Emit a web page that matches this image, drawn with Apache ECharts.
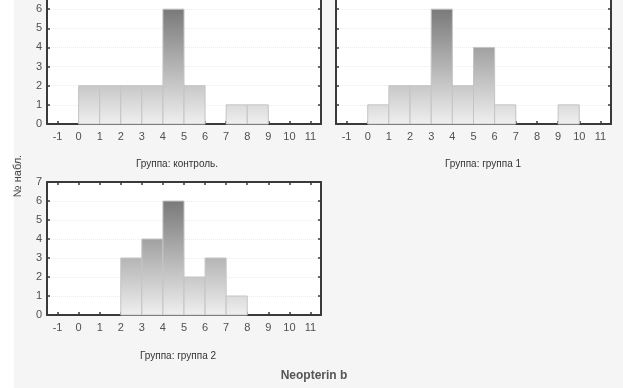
<!DOCTYPE html>
<html>
<head>
<meta charset="utf-8">
<script src="https://cdn.jsdelivr.net/npm/echarts@6/dist/echarts.min.js"></script>
<style>
  html, body { margin: 0; padding: 0; background: #fff; }
  #chart { width: 623px; height: 388px; }
</style>
</head>
<body>
<div id="chart"></div>
<script>
// Histogram bins: left edge of each unit-wide bin and the number of observations in it
const controlBins   = [0, 1, 2, 3, 4, 5, 7, 8];
const controlCounts = [2, 2, 2, 2, 6, 2, 1, 1];
const group1Bins    = [0, 1, 2, 3, 4, 5, 6, 9];
const group1Counts  = [1, 2, 2, 6, 2, 4, 1, 1];
const group2Bins    = [2, 3, 4, 5, 6, 7];
const group2Counts  = [3, 4, 6, 2, 3, 1];

// Tick labels
const xTicks = [-1, 0, 1, 2, 3, 4, 5, 6, 7, 8, 9, 10, 11];
const yTicks = [0, 1, 2, 3, 4, 5, 6, 7];

const panelTitles = ['Группа: контроль.', 'Группа: группа 1', 'Группа: группа 2'];
const yTitle = '№ набл.';
const xTitle = 'Neopterin b';

const X_MIN = -1.5, X_MAX = 11.5, Y_MAX = 7;
const FRAME = '#3a3a3a';
const LABEL = '#505050';
const FONT = 'Liberation Sans, Arial, sans-serif';

const grids = [
  { left: 47,  top: -10, width: 274, height: 134 },
  { left: 336, top: -10, width: 275, height: 134 },
  { left: 47,  top: 182, width: 274, height: 133 }
];

function xAxisPair(gridIndex) {
  const base = {
    type: 'value', gridIndex, min: X_MIN, max: X_MAX,
    axisLine: { show: true, onZero: false, lineStyle: { color: FRAME, width: 2 } },
    axisTick: { show: true, inside: true, length: 3, customValues: xTicks, lineStyle: { color: FRAME, width: 1.5 } },
    splitLine: { show: false }
  };
  return [
    Object.assign({}, base, {
      position: 'bottom',
      axisLabel: { show: true, customValues: xTicks, color: LABEL, fontSize: 11, margin: 7, fontFamily: FONT }
    }),
    Object.assign({}, base, { position: 'top', axisLabel: { show: false } })
  ];
}

function yAxisPair(gridIndex, showLabels) {
  const base = {
    type: 'value', gridIndex, min: 0, max: Y_MAX, interval: 1,
    axisLine: { show: true, onZero: false, lineStyle: { color: FRAME, width: 2 } },
    axisTick: { show: true, inside: true, length: 3, lineStyle: { color: FRAME, width: 1.5 } }
  };
  return [
    Object.assign({}, base, {
      position: 'left',
      axisLabel: { show: showLabels, customValues: yTicks, color: LABEL, fontSize: 11, margin: 5, fontFamily: FONT },
      splitLine: { show: true, lineStyle: { color: '#ececec', type: 'dotted', width: 1 } }
    }),
    Object.assign({}, base, { position: 'right', axisLabel: { show: false }, splitLine: { show: false } })
  ];
}

function histSeries(idx, bins, counts) {
  return {
    type: 'custom',
    xAxisIndex: idx * 2,
    yAxisIndex: idx * 2,
    data: bins.map((b, i) => [b, counts[i]]),
    renderItem: function (params, api) {
      const x0 = api.value(0);
      const h = api.value(1);
      const p0 = api.coord([x0, 0]);
      const p1 = api.coord([x0 + 1, h]);
      const cs = params.coordSys;
      // shade is tied to the plot height, so taller bars reach darker tones
      const fill = new echarts.graphic.LinearGradient(0, cs.y, 0, cs.y + cs.height, [
        { offset: 0, color: '#666666' },
        { offset: 1, color: '#efefef' }
      ], true);
      return {
        type: 'rect',
        shape: { x: p0[0], y: p1[1], width: p1[0] - p0[0], height: p0[1] - p1[1] },
        style: { fill: fill, stroke: '#c4c4c4', lineWidth: 1 }
      };
    }
  };
}

const chart = echarts.init(document.getElementById('chart'), null, { renderer: 'canvas' });

const subtitleStyle = { fill: '#333', fontSize: 10, fontFamily: 'Liberation Sans Narrow, Arial Narrow, Liberation Sans, sans-serif', align: 'center', verticalAlign: 'middle' };

chart.setOption({
  animation: false,
  backgroundColor: '#f5f5f5',
  grid: grids.map(g => Object.assign({
    show: true, backgroundColor: '#ffffff', borderWidth: 0,
    containLabel: false, outerBoundsMode: 'none'
  }, g)),
  xAxis: [].concat(xAxisPair(0), xAxisPair(1), xAxisPair(2)),
  yAxis: [].concat(yAxisPair(0, true), yAxisPair(1, false), yAxisPair(2, true)),
  series: [
    histSeries(0, controlBins, controlCounts),
    histSeries(1, group1Bins, group1Counts),
    histSeries(2, group2Bins, group2Counts)
  ],
  graphic: [
    { type: 'rect', left: 0, top: 0, z: -10, shape: { width: 14, height: 388 }, style: { fill: '#ffffff' } },
    { type: 'text', x: 177, y: 164, style: Object.assign({ text: panelTitles[0] }, subtitleStyle) },
    { type: 'text', x: 483, y: 164, style: Object.assign({ text: panelTitles[1] }, subtitleStyle) },
    { type: 'text', x: 178, y: 356, style: Object.assign({ text: panelTitles[2] }, subtitleStyle) },
    { type: 'text', x: 18, y: 176, rotation: Math.PI / 2,
      style: { text: yTitle, fill: '#444', fontSize: 11, fontFamily: FONT, align: 'center', verticalAlign: 'middle' } },
    { type: 'text', x: 314, y: 376,
      style: { text: xTitle, fill: '#555', fontSize: 12, fontWeight: 'bold', fontFamily: FONT, align: 'center', verticalAlign: 'middle' } }
  ]
});
</script>
</body>
</html>
